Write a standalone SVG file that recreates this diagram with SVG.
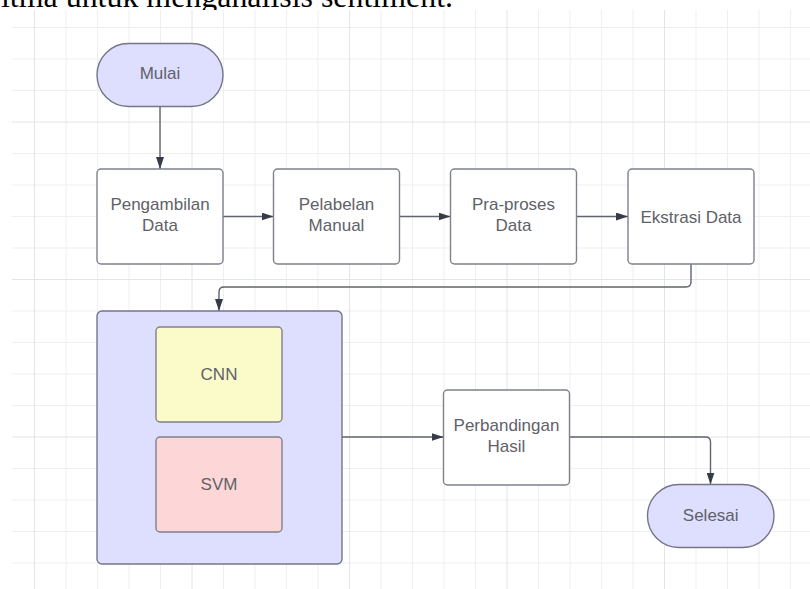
<svg xmlns="http://www.w3.org/2000/svg" width="810" height="589" viewBox="0 0 810 589">
<defs>
<style>
.grid{stroke:#efefef;stroke-width:1;fill:none}
.gridM{stroke:#e4e4e4;stroke-width:1;fill:none}
.box{fill:#ffffff;stroke:#7f818b;stroke-width:1.4}
.lav{fill:#dedeff;stroke:#757589;stroke-width:1.4}
.yel{fill:#fbfac9;stroke:#7f818b;stroke-width:1.4}
.pink{fill:#fdd7d8;stroke:#7f818b;stroke-width:1.4}
.lbl{font-family:"Liberation Sans",Arial,sans-serif;font-size:17px;fill:#5f6169;text-anchor:middle}
.conn{fill:none;stroke:#5f646e;stroke-width:1.4;marker-end:url(#arr)}
.doc{font-family:"Liberation Serif","Times New Roman",serif;font-size:32px;fill:#000}
</style>
<marker id="arr" viewBox="0 0 12 8" markerWidth="12" markerHeight="8" refX="12" refY="4" orient="auto" markerUnits="userSpaceOnUse">
<path d="M0,0 L12,4 L0,8 z" fill="#363c47"/>
</marker>
</defs>
<rect width="810" height="589" fill="#ffffff"/>
<text class="doc" x="1" y="6.5" textLength="452" lengthAdjust="spacingAndGlyphs">itma untuk menganalisis sentiment.</text>
<rect x="0" y="10" width="810" height="579" fill="#ffffff"/>
<g id="grid">
<path class="grid" d="M66,10V589M97.5,10V589M129,10V589M160.5,10V589M223.5,10V589M255,10V589M286.5,10V589M318,10V589M381,10V589M412.5,10V589M444,10V589M475.5,10V589M538.5,10V589M570,10V589M601.5,10V589M633,10V589M696,10V589M727.5,10V589M759,10V589M790.5,10V589"/>
<path class="grid" d="M12,27.5H810M12,59H810M12,90.5H810M12,153.5H810M12,185H810M12,216.5H810M12,248H810M12,311H810M12,342.5H810M12,374H810M12,405.5H810M12,468.5H810M12,500H810M12,531.5H810M12,563H810"/>
<path class="gridM" d="M34.5,10V589M192,10V589M349.5,10V589M507,10V589M664.5,10V589M12,122H810M12,279.5H810M12,437H810"/>
</g>
<g id="connectors">
<path class="conn" d="M160,107V169"/>
<path class="conn" d="M223,216.5H273.5"/>
<path class="conn" d="M399.5,216.5H450.5"/>
<path class="conn" d="M576.5,216.5H628"/>
<path class="conn" d="M691,264V282Q691,287 686,287H224Q219,287 219,292V311"/>
<path class="conn" d="M342,437H443.5"/>
<path class="conn" d="M569.5,437H705.5Q710.5,437 710.5,442V484.5"/>
</g>
<g id="mulai">
<rect class="lav" x="97" y="43.5" width="126" height="63" rx="31.5"/>
<text class="lbl" x="160" y="79.3">Mulai</text>
</g>
<g id="pengambilan">
<rect class="box" x="97" y="169" width="126" height="95" rx="4"/>
<text class="lbl" x="160" y="210">Pengambilan</text>
<text class="lbl" x="160" y="231">Data</text>
</g>
<g id="pelabelan">
<rect class="box" x="273.5" y="169" width="126" height="95" rx="4"/>
<text class="lbl" x="336.5" y="210">Pelabelan</text>
<text class="lbl" x="336.5" y="231">Manual</text>
</g>
<g id="praproses">
<rect class="box" x="450.5" y="169" width="126" height="95" rx="4"/>
<text class="lbl" x="513.5" y="210">Pra-proses</text>
<text class="lbl" x="513.5" y="231">Data</text>
</g>
<g id="ekstrasi">
<rect class="box" x="628" y="169" width="126" height="95" rx="4"/>
<text class="lbl" x="691" y="222.5">Ekstrasi Data</text>
</g>
<g id="model">
<rect class="lav" x="97" y="311" width="245" height="253" rx="5"/>
</g>
<g id="cnn">
<rect class="yel" x="156" y="327" width="126" height="95" rx="4"/>
<text class="lbl" x="219" y="379.5">CNN</text>
</g>
<g id="svm">
<rect class="pink" x="156" y="437" width="126" height="95" rx="4"/>
<text class="lbl" x="219" y="490">SVM</text>
</g>
<g id="perbandingan">
<rect class="box" x="443.5" y="390" width="126" height="95" rx="4"/>
<text class="lbl" x="506.5" y="430.7">Perbandingan</text>
<text class="lbl" x="506.5" y="451.7">Hasil</text>
</g>
<g id="selesai">
<rect class="lav" x="647.5" y="484.5" width="126.5" height="63" rx="31.5"/>
<text class="lbl" x="710.7" y="520.5">Selesai</text>
</g>
</svg>
